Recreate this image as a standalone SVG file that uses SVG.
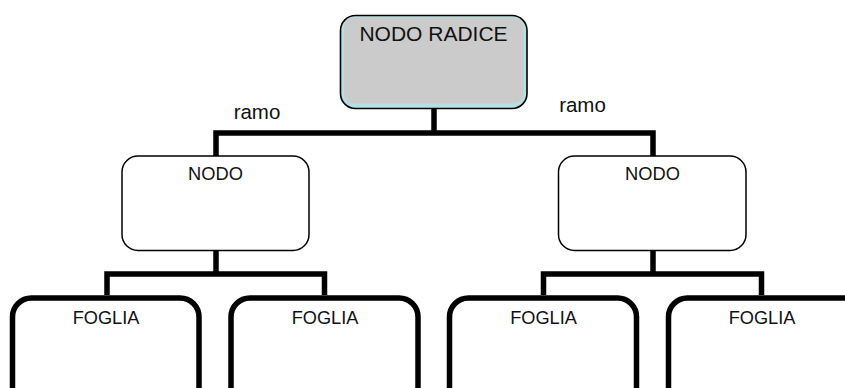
<svg xmlns="http://www.w3.org/2000/svg" width="845" height="388" viewBox="0 0 845 388">
<style>
.lbl{font-family:"Liberation Sans",Arial,sans-serif;fill:#111;text-anchor:middle}
.node{fill:#fff;stroke:#000;stroke-width:1.5}
.leaf{fill:#fff;stroke:#000;stroke-width:5.5}
.conn{fill:none;stroke:#000;stroke-width:5.5;stroke-linejoin:miter;stroke-linecap:butt}
</style>
<rect width="845" height="388" fill="#fff"/>
<g id="connectors">
<path class="conn" d="M434,108 V133 M216,156 V133 H653 V156"/>
<path class="conn" d="M216,251 V274 M107,295 V274 H324.5 V295"/>
<path class="conn" d="M653,251 V274 M543.5,295 V274 H761.5 V295"/>
<text class="lbl" x="257" y="119" font-size="20.5">ramo</text>
<text class="lbl" x="582.5" y="112" font-size="20.5">ramo</text>
</g>
<g id="root">
<rect x="340.5" y="15.5" width="186.5" height="93" rx="15" fill="#b6dfe2" stroke="#000" stroke-width="1.6"/>
<rect x="344" y="17.3" width="179.5" height="86.2" rx="11" fill="#cbcbcb"/>
<text class="lbl" x="433.5" y="40.5" font-size="21">NODO RADICE</text>
</g>
<g id="node-left">
<rect class="node" x="122" y="156" width="187" height="94.5" rx="16"/>
<text class="lbl" x="215.5" y="180" font-size="18.3">NODO</text>
</g>
<g id="node-right">
<rect class="node" x="558.5" y="156" width="187.5" height="94.5" rx="16"/>
<text class="lbl" x="652.5" y="180" font-size="18.3">NODO</text>
</g>
<g id="leaf-1">
<rect class="leaf" x="12.5" y="298" width="186.5" height="110" rx="19"/>
<text class="lbl" x="106" y="323.5" font-size="18.2">FOGLIA</text>
</g>
<g id="leaf-2">
<rect class="leaf" x="231" y="298" width="187" height="110" rx="19"/>
<text class="lbl" x="325" y="323.5" font-size="18.2">FOGLIA</text>
</g>
<g id="leaf-3">
<rect class="leaf" x="449.5" y="298" width="187" height="110" rx="19"/>
<text class="lbl" x="543.5" y="323.5" font-size="18.2">FOGLIA</text>
</g>
<g id="leaf-4">
<rect class="leaf" x="668.5" y="298" width="195" height="110" rx="19"/>
<text class="lbl" x="762" y="323.5" font-size="18.2">FOGLIA</text>
</g>
</svg>
